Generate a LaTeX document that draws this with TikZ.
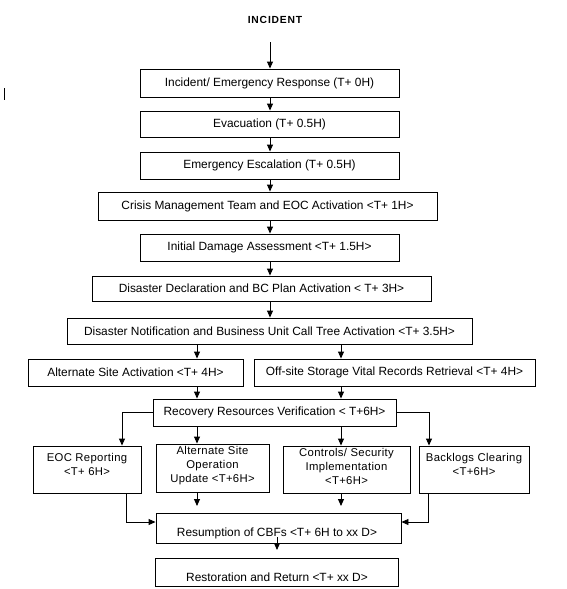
\documentclass[tikz,border=0pt]{standalone}
\usepackage{fontspec}
\setmainfont{Liberation Sans}
\newfontfamily\spacedfont[LetterSpace=8]{Liberation Sans}
\newfontfamily\widefont[LetterSpace=3]{Liberation Sans}
\usetikzlibrary{arrows.meta,calc}
\begin{document}
\begin{tikzpicture}[x=1pt,y=-1pt,
  box/.style={draw, line width=0.9pt, inner sep=0pt, font=\fontsize{11.9}{13}\selectfont, align=center},
  txt/.style={inner sep=0pt, font=\widefont\fontsize{11.3}{14}\selectfont, align=center},
  arr/.style={-{Triangle[width=6pt,length=7pt]}, line width=0.9pt},
  ln/.style={line width=0.9pt}]
\useasboundingbox (0,0) rectangle (567,589);

\node[font=\spacedfont\bfseries\fontsize{10.3}{12}\selectfont, inner sep=0pt] (inc) at (275,20) {INCIDENT};

\node[box, minimum width=259, minimum height=28] (b1) at (269.5,83) {Incident/ Emergency Response (T+ 0H)};
\node[box, minimum width=259, minimum height=26] (b2) at (269.5,124) {Evacuation (T+ 0.5H)};
\node[box, minimum width=259, minimum height=27] (b3) at (269.5,165.5) {Emergency Escalation (T+ 0.5H)};
\node[box, minimum width=339, minimum height=28] (b4) at (267.5,206) {Crisis Management Team and EOC Activation <T+ 1H>};
\node[box, minimum width=259, minimum height=27] (b5) at (269.5,247.5) {Initial Damage Assessment <T+ 1.5H>};
\node[box, minimum width=339, minimum height=25] (b6) at (261.5,288.5) {Disaster Declaration and BC Plan Activation < T+ 3H>};
\node[box, minimum width=405, minimum height=26] (b7) at (269.5,331) {Disaster Notification and Business Unit Call Tree Activation <T+ 3.5H>};
\node[box, minimum width=215, minimum height=27] (b8a) at (135.5,372.5) {Alternate Site Activation <T+ 4H>};
\node[box, minimum width=281, minimum height=27] (b8b) at (394.5,372.5) {Off-site Storage Vital Records Retrieval <T+ 4H>};
\node[box, minimum width=243, minimum height=27] (rec) at (274.5,412.5) {Recovery Resources Verification < T+6H>};

\node[box, minimum width=108, minimum height=47] (eoc) at (87,469.5) {};
\node[box, minimum width=113, minimum height=48] (altop) at (212.5,468) {};
\node[box, minimum width=127, minimum height=47] (ctrl) at (346.5,469.5) {};
\node[box, minimum width=110, minimum height=47] (back) at (474,469.5) {};
\node[txt] (teoc) at (87,464) {EOC Reporting\\<T+ 6H>};
\node[txt] (taltop) at (212.5,465.5) {Alternate Site\\Operation\\Update <T+6H>};
\node[txt] (tctrl) at (346.5,466) {Controls/ Security\\Implementation\\<T+6H>};
\node[txt] (tback) at (474,464) {Backlogs Clearing\\<T+6H>};

\node[box, minimum width=245, minimum height=30] (res) at (278.5,528) {};
\node[box, minimum width=243, minimum height=28] (rest) at (276.5,572) {};
\node[box, draw=none] (tres) at (277,533) {Resumption of CBFs <T+ 6H to xx D>};
\node[box, draw=none] (trest) at (277,577) {Restoration and Return <T+ xx D>};

% x positions of connectors
\coordinate (xC) at (270,0);
\coordinate (xL) at (197,0);
\coordinate (xR) at (341,0);
\coordinate (xE) at (122,0);
\coordinate (xB) at (429,0);
\coordinate (xE2) at (126,0);
\coordinate (xB2) at (428,0);
\coordinate (yJ) at (0,522);
\coordinate (yA) at (0,506);
\coordinate (inc0) at (270,42);
\coordinate (m0) at (277,537);
\coordinate (m1) at (277,550);

\draw[arr] (inc0) -- (inc0 |- b1.north);
\draw[arr] (xC |- b1.south) -- (xC |- b2.north);
\draw[arr] (xC |- b2.south) -- (xC |- b3.north);
\draw[arr] (xC |- b3.south) -- (xC |- b4.north);
\draw[arr] (xC |- b4.south) -- (xC |- b5.north);
\draw[arr] (xC |- b5.south) -- (xC |- b6.north);
\draw[arr] (xC |- b6.south) -- (xC |- b7.north);
\draw[arr] (xL |- b7.south) -- (xL |- b8a.north);
\draw[arr] (xR |- b7.south) -- (xR |- b8b.north);
\draw[arr] (xL |- b8a.south) -- (xL |- rec.north);
\draw[arr] (xR |- b8b.south) -- (xR |- rec.north);
\draw[arr] (rec.west) -| (xE |- eoc.north);
\draw[arr] (rec.east) -| (xB |- back.north);
\draw[arr] (xL |- rec.south) -- (xL |- altop.north);
\draw[arr] (xR |- rec.south) -- (xR |- ctrl.north);
\draw[arr] (xE2 |- eoc.south) |- (res.west |- yJ);
\draw[arr] (xB2 |- back.south) |- (res.east |- yJ);
\draw[arr] (xL |- altop.south) -- (xL |- yA);
\draw[arr] (xR |- ctrl.south) -- (xR |- yA);
\draw[arr] (m0) -- (m1);

% stray mark at left
\draw[ln] (4,88) -- (4,100);
\end{tikzpicture}
\end{document}
